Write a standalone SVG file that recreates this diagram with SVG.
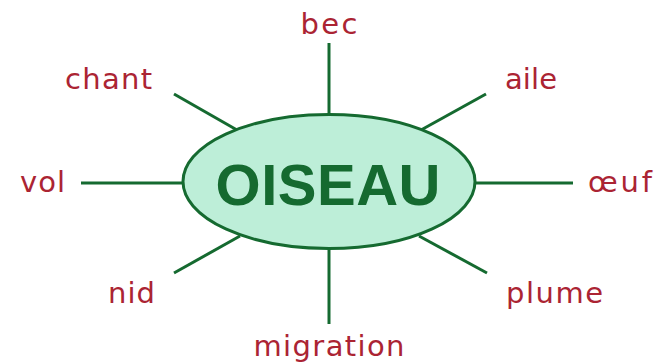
<svg xmlns="http://www.w3.org/2000/svg" width="655" height="364" viewBox="0 0 655 364">
<style>
.c{stroke:#156a30;stroke-width:3;fill:none}
.l{font-family:"DejaVu Sans","Liberation Sans",sans-serif;font-size:29px;fill:#ab2433}
.t{font-family:"Liberation Sans",Arial,sans-serif;font-weight:bold;font-size:58px;fill:#156a30}
</style>
<rect width="655" height="364" fill="#fff"/>
<g id="connectors">
<line class="c" x1="329" y1="43" x2="329" y2="115"/>
<line class="c" x1="329" y1="248" x2="329" y2="324"/>
<line class="c" x1="81" y1="183" x2="184" y2="183"/>
<line class="c" x1="474" y1="183" x2="573" y2="183"/>
<line class="c" x1="174" y1="94" x2="237" y2="130"/>
<line class="c" x1="486" y1="94" x2="421" y2="130"/>
<line class="c" x1="174" y1="273" x2="240" y2="236"/>
<line class="c" x1="487" y1="273" x2="419" y2="236"/>
</g>
<g id="oiseau">
<ellipse cx="329" cy="181.5" rx="146" ry="67" fill="#bdeed8" stroke="#156a30" stroke-width="3"/>
<text class="t" x="328" y="205" text-anchor="middle" textLength="225">OISEAU</text>
</g>
<g id="bec"><text class="l" x="329" y="34" text-anchor="middle" textLength="57">bec</text></g>
<g id="chant"><text class="l" x="65" y="89" textLength="87">chant</text></g>
<g id="aile"><text class="l" x="505" y="89" textLength="52">aile</text></g>
<g id="vol"><text class="l" x="20" y="192" textLength="45">vol</text></g>
<g id="oeuf"><text class="l" x="588" y="192" textLength="64">œuf</text></g>
<g id="nid"><text class="l" x="108" y="303" textLength="47">nid</text></g>
<g id="plume"><text class="l" x="506" y="303" textLength="97">plume</text></g>
<g id="migration"><text class="l" x="329" y="356" text-anchor="middle" textLength="151">migration</text></g>
</svg>
